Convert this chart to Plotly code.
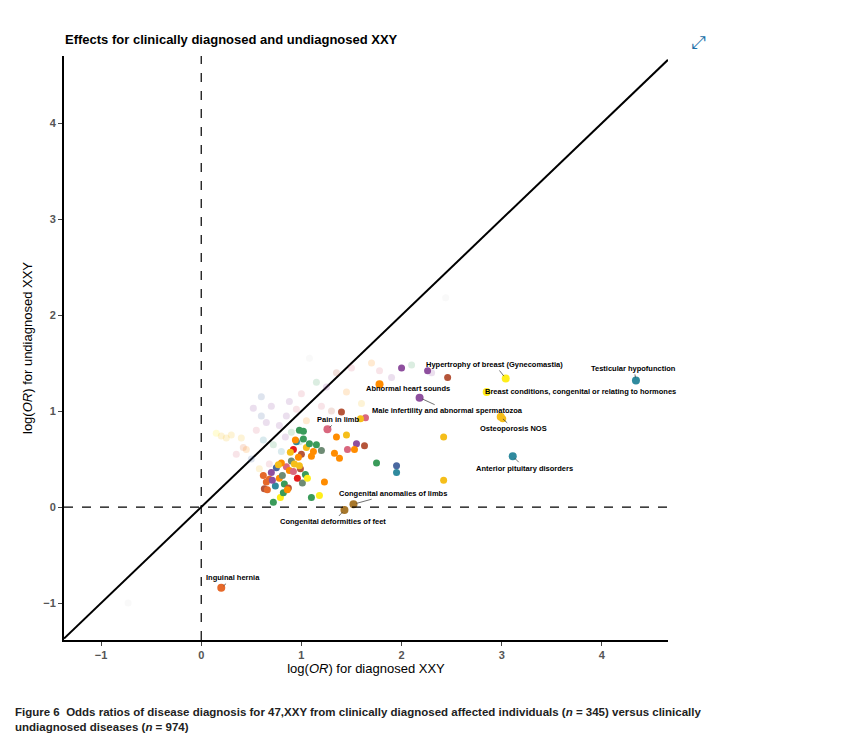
import plotly.graph_objects as go

# colour groups
PUR, BRN, ORG, YEL, GLD = "#8E4F9E", "#B5553A", "#FF8C00", "#FFEE1A", "#F5BE1A"
TEA, GRN, PNK, RED, BLU = "#2F8A9E", "#3A9B5A", "#D9677E", "#E41A1C", "#4A68A0"
GGR, ORR, BGD = "#6E8B74", "#E6692A", "#A7772B"

# labelled diseases
lab_names = ["Testicular hypofunction", "Hypertrophy of breast (Gynecomastia)",
             "Breast conditions, congenital or relating to hormones", "Osteoporosis NOS",
             "Anterior pituitary disorders", "Male infertility and abnormal spermatozoa",
             "Abnormal heart sounds", "Pain in limb", "Congenital anomalies of limbs",
             "Congenital deformities of feet", "Inguinal hernia"]
lab_x = [4.34, 3.04, 2.85, 2.99, 3.11, 2.18, 1.78, 1.26, 1.52, 1.43, 0.20]
lab_y = [1.32, 1.34, 1.20, 0.94, 0.53, 1.14, 1.28, 0.81, 0.03, -0.03, -0.84]
lab_col = [TEA, YEL, YEL, GLD, TEA, PUR, ORG, PNK, BGD, BGD, ORR]
lab_ax = [-2, -11, 94, 13, 12, 28, 28, 11, 40, -11, 12]
lab_ay = [-12, -14, 0, 12, 12, 13, 4, -10, -11, 12, -10]

# other significant diseases
pt_x = [2.00, 2.26, 2.46, 1.40, 1.64, 1.59, 1.35, 1.45, 1.55, 1.63, 1.46, 1.53, 1.33, 1.38,
        1.20, 1.75, 1.95, 1.95, 2.42, 2.42, 1.23, 1.18, 1.10, 0.72, 0.79, 3.01,
        0.98, 1.02, 1.05, 0.95, 1.00, 1.08, 0.92, 0.97, 1.12, 0.90, 0.85, 0.88,
        0.93, 0.99, 1.04, 0.80, 0.75, 0.70, 0.62, 0.65, 0.78, 0.83, 0.87, 0.96,
        1.01, 0.74, 0.68, 0.63, 0.82, 0.86, 0.92, 0.98, 1.06, 1.15, 1.02, 0.77,
        0.71, 0.89, 0.94, 0.81, 1.10, 0.66]
pt_y = [1.45, 1.42, 1.35, 0.99, 0.93, 0.92, 0.73, 0.75, 0.66, 0.64, 0.60, 0.60, 0.56, 0.51,
        0.59, 0.46, 0.43, 0.36, 0.73, 0.28, 0.26, 0.12, 0.10, 0.05, 0.10, 0.92,
        0.80, 0.71, 0.62, 0.68, 0.55, 0.66, 0.60, 0.52, 0.58, 0.48, 0.42, 0.38,
        0.45, 0.40, 0.34, 0.46, 0.41, 0.36, 0.33, 0.26, 0.30, 0.24, 0.20, 0.30,
        0.25, 0.22, 0.29, 0.19, 0.15, 0.18, 0.37, 0.43, 0.30, 0.65, 0.79, 0.44,
        0.28, 0.57, 0.70, 0.33, 0.53, 0.18]
pt_col = [PUR, PUR, BRN, BRN, PNK, GLD, ORG, GLD, PUR, BRN, PNK, ORG, ORG, ORG,
          GGR, GRN, BLU, TEA, GLD, GLD, ORG, YEL, GRN, GRN, YEL, GLD,
          GRN, GRN, GLD, TEA, BRN, GRN, RED, ORG, ORG, GGR, PNK, ORG,
          GLD, BRN, GRN, ORG, BLU, PUR, ORR, ORR, ORG, GRN, BRN, RED,
          GGR, TEA, ORR, BRN, GRN, ORG, PNK, GLD, YEL, GRN, GRN, GLD,
          PUR, GLD, ORG, GGR, ORG, ORR]

# non-significant diseases (faded)
fd_x = [2.44, 1.08, -0.73, 0.40, 0.55, 0.60, 0.70, 0.85, 0.95, 1.15, 1.25, 1.35, 1.50,
        1.70, 1.90, 2.10, 0.30, 0.45, 0.62, 0.78, 0.90, 1.00, 0.20, 0.35, 0.50, 0.65,
        0.72, 0.88, 1.05, 1.20, 1.45, 1.60, 0.58, 0.80, 0.15, 0.52, 0.68, 0.98, 1.30,
        2.30, 1.78, 0.42, 0.25, 0.60, 0.84]
fd_y = [2.18, 1.55, -1.00, 0.72, 0.80, 1.15, 1.05, 0.95, 1.02, 1.30, 1.25, 1.40, 1.45,
        1.50, 1.35, 1.48, 0.75, 0.60, 0.70, 0.85, 0.78, 1.18, 0.74, 0.55, 0.50, 0.88,
        0.65, 1.10, 0.90, 1.05, 1.20, 1.08, 0.40, 0.58, 0.77, 1.03, 0.45, 0.68, 1.00,
        1.40, 1.42, 0.62, 0.72, 0.95, 0.73]
fd_col = ["#DDDDDD", "#DDDDDD", "#DDDDDD", GLD, PNK, BLU, PUR, PUR, PNK, GRN, PUR, BRN, PNK,
          ORG, PUR, GRN, GLD, ORG, TEA, PUR, GRN, PNK, GLD, PNK, BLU, PUR,
          GRN, PUR, ORG, PNK, ORG, GLD, GLD, TEA, YEL, PUR, PNK, GRN, BRN,
          PUR, PNK, ORR, GLD, BLU, PUR]

fig = go.Figure()
fig.add_trace(go.Scatter(x=[-1.37, 4.66], y=[-1.37, 4.66], mode="lines",
                         line=dict(color="black", width=2), hoverinfo="skip"))
fig.add_trace(go.Scatter(x=fd_x, y=fd_y, mode="markers",
                         marker=dict(color=fd_col, size=7, opacity=0.18)))
fig.add_trace(go.Scatter(x=pt_x, y=pt_y, mode="markers",
                         marker=dict(color=pt_col, size=7)))
fig.add_trace(go.Scatter(x=lab_x, y=lab_y, mode="markers", text=lab_names,
                         marker=dict(color=lab_col, size=8)))

for n, x, y, ax, ay in zip(lab_names, lab_x, lab_y, lab_ax, lab_ay):
    fig.add_annotation(x=x, y=y, ax=ax, ay=ay, text="<b>%s</b>" % n, showarrow=True,
                       arrowhead=0, arrowwidth=0.7, arrowcolor="#333", standoff=3,
                       font=dict(size=7.5, color="black"))

fig.add_vline(x=0, line=dict(color="black", width=1.2, dash="dash"))
fig.add_hline(y=0, line=dict(color="black", width=1.2, dash="dash"))

axis = dict(showgrid=False, zeroline=False, showline=True, linecolor="black", linewidth=2,
            ticks="outside", ticklen=4, tickcolor="#444", dtick=1, automargin=False,
            tickfont=dict(size=11, color="#555", family="Liberation Sans", weight="bold"))
fig.update_xaxes(axis, range=[-1.37, 4.66],
                 title=dict(text="log(<i>OR</i>) for diagnosed XXY", font=dict(size=13), standoff=4))
fig.update_yaxes(axis, range=[-1.385, 4.7],
                 title=dict(text="log(<i>OR</i>) for undiagnosed XXY", font=dict(size=13), standoff=8))

fig.add_annotation(xref="paper", yref="paper", x=-0.001, y=1.045, xanchor="left", showarrow=False,
                   text="<b>Effects for clinically diagnosed and undiagnosed XXY</b>",
                   font=dict(size=13, color="black"))
fig.add_annotation(xref="paper", yref="paper", x=1.05, y=1.045, xanchor="center", showarrow=False,
                   text="⤢", font=dict(size=18, color="#1A6FA8"))
fig.add_annotation(xref="paper", yref="paper", x=-0.085, y=-0.11, xanchor="left", yanchor="top",
                   showarrow=False, align="left",
                   text="<b>Figure 6</b>  <b>Odds ratios of disease diagnosis for 47,XXY from clinically diagnosed affected individuals (<i>n</i> = 345) versus clinically<br>undiagnosed diseases (<i>n</i> = 974)</b>",
                   font=dict(size=11.5, color="#222"))

fig.update_layout(width=854, height=754, showlegend=False, plot_bgcolor="white",
                  paper_bgcolor="white", margin=dict(l=56, r=194, t=48, b=122),
                  font=dict(family="Liberation Sans", color="black"))
fig.write_html("out.html")
